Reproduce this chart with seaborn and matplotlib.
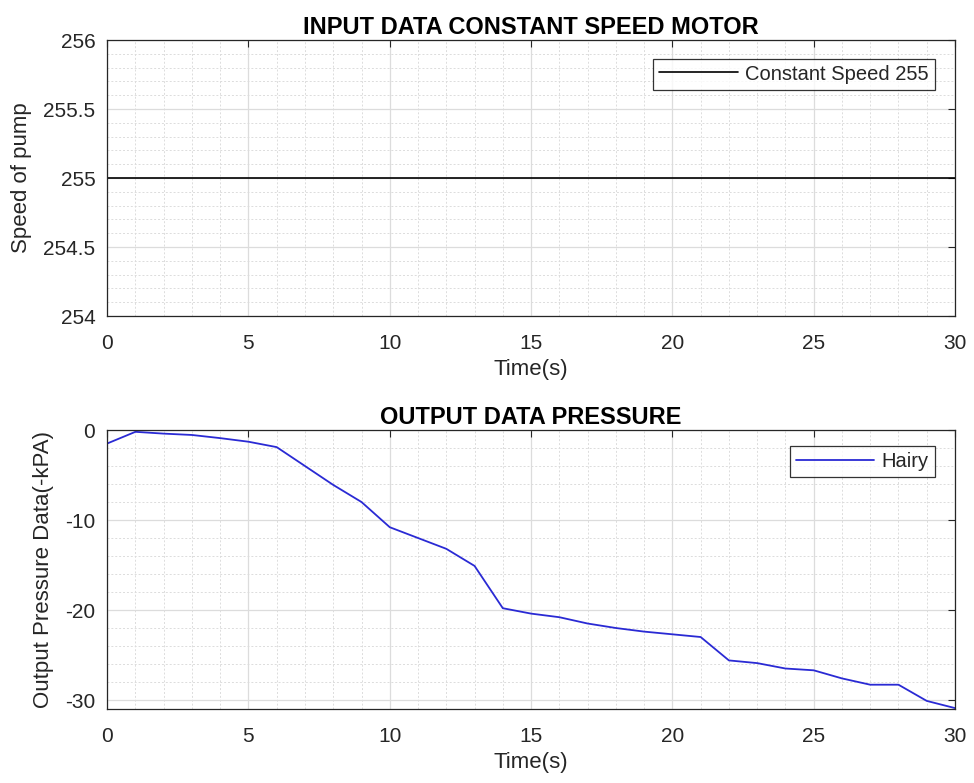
import numpy as np
import pandas as pd
import matplotlib
matplotlib.use("Agg")
import matplotlib.pyplot as plt
import seaborn as sns
from matplotlib.ticker import MultipleLocator, FuncFormatter

# Data
time_s = [0, 1, 2, 3, 4, 5, 6, 7, 8, 9, 10, 11, 12, 13, 14, 15, 16, 17, 18, 19, 20,
          21, 22, 23, 24, 25, 26, 27, 28, 29, 30]
speed = [255] * len(time_s)
pressure = [-1.5, -0.2, -0.4, -0.55, -0.9, -1.3, -1.9, -4.0, -6.1, -8.0, -10.8,
            -12.0, -13.2, -15.1, -19.8, -20.4, -20.8, -21.5, -22.0, -22.4, -22.7,
            -23.0, -25.6, -25.9, -26.5, -26.7, -27.6, -28.3, -28.3, -30.1, -30.9]

top_title = "INPUT DATA CONSTANT SPEED MOTOR"
bot_title = "OUTPUT DATA PRESSURE"
speed_label = "Constant Speed 255"
pressure_label = "Hairy"

sns.set_style("white")
plt.rcParams['font.family'] = ['Liberation Sans', 'DejaVu Sans']
plt.rcParams['axes.unicode_minus'] = False

df1 = pd.DataFrame({"t": time_s, "v": speed})
df2 = pd.DataFrame({"t": time_s, "v": pressure})

fig = plt.figure(figsize=(9.74, 7.83), dpi=100)
ax1 = fig.add_axes([0.110, 0.5964, 0.8705, 0.3525])
ax2 = fig.add_axes([0.110, 0.0945, 0.8705, 0.3563])

sns.lineplot(data=df1, x="t", y="v", ax=ax1, color="black", lw=1.2, label=speed_label)
sns.lineplot(data=df2, x="t", y="v", ax=ax2, color="#2a2ad4", lw=1.3, label=pressure_label)

def style(ax, ylim, ymaj, ymin, ylabel, title, leg_y):
    ax.set_xlim(0, 30)
    ax.set_ylim(*ylim)
    ax.xaxis.set_major_locator(MultipleLocator(5))
    ax.xaxis.set_minor_locator(MultipleLocator(1))
    ax.yaxis.set_major_locator(MultipleLocator(ymaj))
    ax.yaxis.set_minor_locator(MultipleLocator(ymin))
    ax.yaxis.set_major_formatter(FuncFormatter(lambda v, p: f"{v:g}"))
    ax.grid(True, which="major", color="#dcdcdc", lw=0.9, ls="-")
    ax.grid(True, which="minor", color="#dcdcdc", lw=0.7, ls=(0, (2, 2)))
    ax.set_axisbelow(True)
    ax.tick_params(which="both", direction="in", top=True, right=True,
                   labelsize=15, colors="#262626")
    ax.tick_params(axis="x", which="major", length=5, pad=13)
    ax.tick_params(axis="y", which="major", length=5, pad=8.5)
    ax.tick_params(which="minor", length=0)
    for s in ax.spines.values():
        s.set_color("#262626")
        s.set_linewidth(0.9)
    ax.set_xlabel("Time(s)", fontsize=16, color="#262626", labelpad=4)
    ax.set_ylabel(ylabel, fontsize=16, color="#262626", labelpad=8)
    ax.set_title(title, fontsize=17, fontweight="bold", color="black", pad=4.5)
    leg = ax.legend(loc="upper right", fontsize=14.5, handlelength=3.9,
                    handletextpad=0.35, frameon=True, fancybox=False,
                    edgecolor="black", borderpad=0.3, borderaxespad=0,
                    bbox_to_anchor=(0.976, leg_y))
    leg.get_frame().set_linewidth(0.9)

style(ax1, (254, 256), 0.5, 0.1, "Speed of pump", top_title, 0.933)
style(ax2, (-31, 0), 10, 2, "Output Pressure Data(-kPA)", bot_title, 0.943)

fig.savefig("out.png", dpi=100, facecolor="white")
